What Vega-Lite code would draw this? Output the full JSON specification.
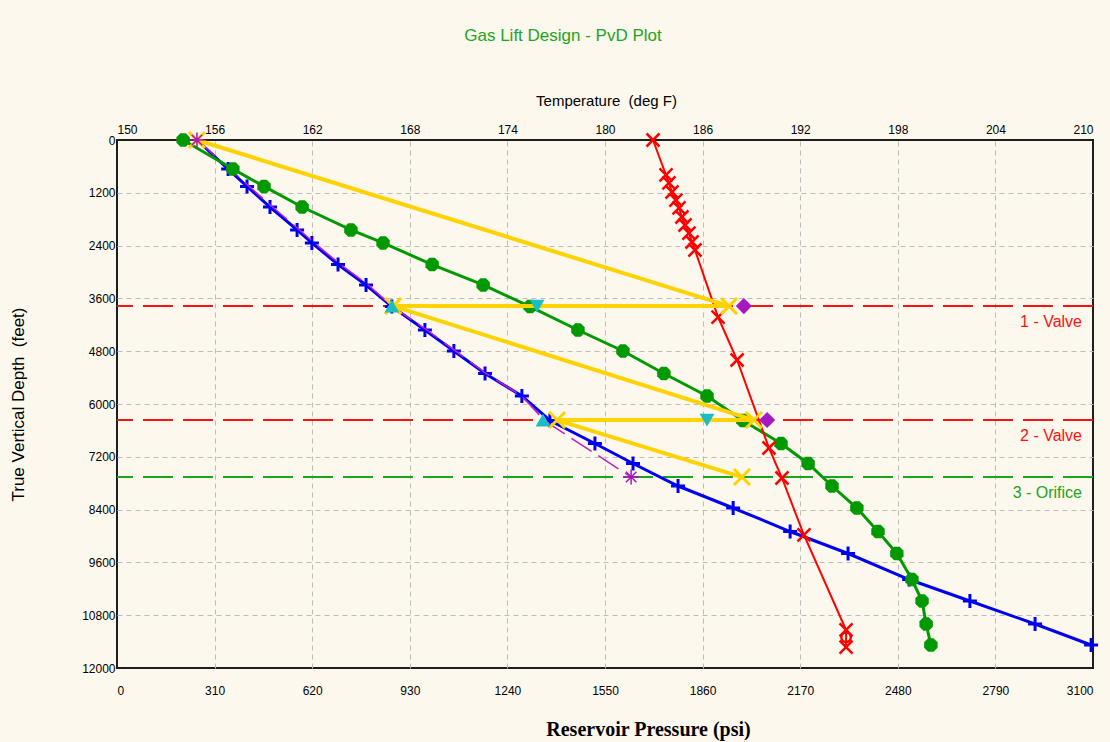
{
  "$schema": "https://vega.github.io/schema/vega-lite/v6.json",
  "width": 976,
  "height": 528,
  "autosize": "none",
  "padding": {"left": 117, "top": 140, "right": 17, "bottom": 74},
  "background": "#fdf8ed",
  "title": {"text": "Gas Lift Design - PvD Plot", "color": "#1ea51e", "fontSize": 17, "font": "Liberation Sans", "fontWeight": "normal", "anchor": "middle", "dx": -42, "offset": 48},
  "config": {
    "view": {"stroke": "#1e1e1e", "strokeWidth": 2},
    "axis": {"labelFont": "Liberation Sans", "labelFontSize": 12, "labelColor": "#000", "titleFont": "Liberation Sans", "titleColor": "#000", "titleFontWeight": "normal", "ticks": false, "domain": false, "gridColor": "#bcbcbc", "gridDash": [5, 4], "gridWidth": 1}
  },
  "datasets": {
    "blue": [
      {"p": 254, "d": 0}, {"p": 353, "d": 660}, {"p": 413, "d": 1055}, {"p": 486, "d": 1523},
      {"p": 572, "d": 2045}, {"p": 619, "d": 2340}, {"p": 702, "d": 2830}, {"p": 791, "d": 3295},
      {"p": 873, "d": 3785}, {"p": 978, "d": 4318}, {"p": 1070, "d": 4795}, {"p": 1169, "d": 5306},
      {"p": 1286, "d": 5818}, {"p": 1375, "d": 6375}, {"p": 1518, "d": 6898}, {"p": 1639, "d": 7352},
      {"p": 1782, "d": 7864}, {"p": 1957, "d": 8364}, {"p": 2138, "d": 8898}, {"p": 2322, "d": 9398},
      {"p": 2516, "d": 9989}, {"p": 2709, "d": 10478}, {"p": 2916, "d": 11000}, {"p": 3094, "d": 11477}
    ],
    "green": [
      {"p": 210, "d": 0}, {"p": 368, "d": 660}, {"p": 467, "d": 1055}, {"p": 588, "d": 1523},
      {"p": 743, "d": 2045}, {"p": 845, "d": 2340}, {"p": 1001, "d": 2830}, {"p": 1163, "d": 3295},
      {"p": 1312, "d": 3785}, {"p": 1464, "d": 4318}, {"p": 1607, "d": 4795}, {"p": 1737, "d": 5306},
      {"p": 1874, "d": 5818}, {"p": 1988, "d": 6375}, {"p": 2109, "d": 6898}, {"p": 2195, "d": 7352},
      {"p": 2271, "d": 7864}, {"p": 2350, "d": 8364}, {"p": 2417, "d": 8898}, {"p": 2477, "d": 9398},
      {"p": 2525, "d": 9989}, {"p": 2557, "d": 10478}, {"p": 2570, "d": 11000}, {"p": 2585, "d": 11477}
    ],
    "red": [
      {"t": 182.95, "d": 0, "m": "x"}, {"t": 183.75, "d": 795, "m": "x"}, {"t": 183.93, "d": 977, "m": "x"},
      {"t": 184.12, "d": 1182, "m": "x"}, {"t": 184.36, "d": 1364, "m": "x"}, {"t": 184.55, "d": 1545, "m": "x"},
      {"t": 184.73, "d": 1750, "m": "x"}, {"t": 184.92, "d": 1932, "m": "x"}, {"t": 185.16, "d": 2114, "m": "x"},
      {"t": 185.35, "d": 2318, "m": "x"}, {"t": 185.53, "d": 2500, "m": "x"}, {"t": 186.95, "d": 4023, "m": "x"},
      {"t": 188.12, "d": 5000, "m": "x"}, {"t": 190.08, "d": 7000, "m": "x"}, {"t": 190.88, "d": 7682, "m": "x"},
      {"t": 192.23, "d": 8977, "m": "x"}, {"t": 194.82, "d": 11136, "m": "x"}, {"t": 194.82, "d": 11300, "m": "o"},
      {"t": 194.82, "d": 11523, "m": "x"}
    ],
    "magenta": [
      {"p": 254, "d": 0}, {"p": 360, "d": 660}, {"p": 420, "d": 1055}, {"p": 494, "d": 1523},
      {"p": 580, "d": 2045}, {"p": 627, "d": 2340}, {"p": 710, "d": 2830}, {"p": 798, "d": 3295},
      {"p": 873, "d": 3775}, {"p": 984, "d": 4318}, {"p": 1075, "d": 4795}, {"p": 1172, "d": 5306},
      {"p": 1286, "d": 5818}, {"p": 1359, "d": 6386}, {"p": 1633, "d": 7660}
    ],
    "yellow": [
      {"i": 1, "p": 254, "d": 0}, {"i": 2, "p": 1944, "d": 3775}, {"i": 3, "p": 877, "d": 3775},
      {"i": 4, "p": 2023, "d": 6365}, {"i": 5, "p": 1398, "d": 6365}, {"i": 6, "p": 1985, "d": 7660}
    ],
    "pts": [
      {"k": "up", "p": 873, "d": 3775}, {"k": "up", "p": 1353, "d": 6365},
      {"k": "down", "p": 1334, "d": 3775}, {"k": "down", "p": 1874, "d": 6365},
      {"k": "dia", "p": 1991, "d": 3775}, {"k": "dia", "p": 2065, "d": 6365},
      {"k": "star", "p": 254, "d": 0}, {"k": "star", "p": 1633, "d": 7660}
    ],
    "valves": [
      {"name": "1 - Valve", "kind": "valve", "d": 3775}, {"name": "2 - Valve", "kind": "valve", "d": 6365}, {"name": "3 - Orifice", "kind": "orifice", "d": 7660}
    ]
  },
  "resolve": {"scale": {"x": "independent"}},
  "layer": [
    {
      "encoding": {
        "x": {"field": "p", "type": "quantitative", "scale": {"domain": [0, 3100], "nice": false, "zero": false},
          "axis": {"orient": "bottom", "values": [0, 310, 620, 930, 1240, 1550, 1860, 2170, 2480, 2790, 3100], "format": "d", "grid": true, "labelPadding": 17,
            "gridOpacity": {"condition": {"test": "datum.value == 0 || datum.value == 3100", "value": 0}, "value": 1},
            "title": "Reservoir Pressure (psi)", "titleFont": "Liberation Serif", "titleFontWeight": "bold", "titleFontSize": 20, "titleX": 531, "titleY": 61, "titleBaseline": "middle"}},
        "y": {"field": "d", "type": "quantitative", "scale": {"domain": [0, 12000], "nice": false, "zero": false, "reverse": true},
          "axis": {"values": [0, 1200, 2400, 3600, 4800, 6000, 7200, 8400, 9600, 10800, 12000], "format": "d", "grid": true, "labelPadding": 2,
            "gridOpacity": {"condition": {"test": "datum.value == 0 || datum.value == 12000", "value": 0}, "value": 1},
            "title": "True Vertical Depth \u00a0(feet)", "titleFontSize": 17, "titleX": -99, "titleY": 264, "titleBaseline": "middle"}}
      },
      "layer": [
        {
          "data": {"name": "valves"},
          "transform": [{"filter": "datum.kind == 'valve'"}],
          "mark": {"type": "rule", "strokeDash": [30, 10], "strokeWidth": 2, "color": "#ff1010"},
          "encoding": {"x": null}
        },
        {
          "data": {"name": "valves"},
          "transform": [{"filter": "datum.kind == 'orifice'"}],
          "mark": {"type": "rule", "strokeDash": [30, 10], "strokeWidth": 2, "color": "#1aa51a"},
          "encoding": {"x": null}
        },
        {
          "data": {"name": "valves"},
          "transform": [{"filter": "datum.kind == 'valve'"}],
          "mark": {"type": "text", "align": "right", "baseline": "middle", "dx": -11, "dy": 16, "fontSize": 16, "font": "Liberation Sans", "color": "#ff1010"},
          "encoding": {
            "x": {"value": "width"},
            "text": {"field": "name"}
          }
        },
        {
          "data": {"name": "valves"},
          "transform": [{"filter": "datum.kind == 'orifice'"}],
          "mark": {"type": "text", "align": "right", "baseline": "middle", "dx": -11, "dy": 16, "fontSize": 16, "font": "Liberation Sans", "color": "#1aa51a"},
          "encoding": {
            "x": {"value": "width"},
            "text": {"field": "name"}
          }
        },
        {
          "data": {"name": "blue"},
          "mark": {"type": "line", "color": "#0000f0", "strokeWidth": 3},
          "encoding": {"order": {"field": "d"}}
        },
        {
          "data": {"name": "blue"},
          "transform": [{"filter": "datum.d > 0"}],
          "mark": {"type": "point", "shape": "M-1,0L1,0M0,-1L0,1", "filled": false, "stroke": "#0000f0", "strokeWidth": 3, "size": 196, "opacity": 1}
        },
        {
          "data": {"name": "magenta"},
          "mark": {"type": "line", "color": "#c020c0", "strokeWidth": 1.5, "strokeDash": [24, 8]},
          "encoding": {"order": {"field": "d"}}
        },
        {
          "data": {"name": "green"},
          "mark": {"type": "line", "color": "#009a00", "strokeWidth": 3},
          "encoding": {"order": {"field": "d"}}
        },
        {
          "data": {"name": "green"},
          "mark": {"type": "point", "shape": "M-0.41,-1L0.41,-1L1,-0.41L1,0.41L0.41,1L-0.41,1L-1,0.41L-1,-0.41Z", "filled": true, "color": "#009a00", "size": 180, "opacity": 1}
        }
      ]
    },
    {
      "data": {"name": "red"},
      "encoding": {
        "x": {"field": "t", "type": "quantitative", "scale": {"domain": [150, 210], "nice": false, "zero": false},
          "axis": {"orient": "top", "values": [150, 156, 162, 168, 174, 180, 186, 192, 198, 204, 210], "grid": false, "labelPadding": 4,
            "title": "Temperature \u00a0(deg F)", "titleFontSize": 15, "titleX": 489, "titleY": -40, "titleBaseline": "middle"}},
        "y": {"field": "d", "type": "quantitative", "scale": {"domain": [0, 12000], "nice": false, "zero": false, "reverse": true}}
      },
      "layer": [
        {
          "mark": {"type": "line", "color": "#ff0000", "strokeWidth": 2},
          "encoding": {"order": {"field": "d"}}
        },
        {
          "transform": [{"filter": "datum.m == 'x'"}],
          "mark": {"type": "point", "shape": "M-1,-1L1,1M1,-1L-1,1", "filled": false, "stroke": "#ff0000", "strokeWidth": 2.5, "size": 169, "opacity": 1}
        },
        {
          "transform": [{"filter": "datum.m == 'o'"}],
          "mark": {"type": "point", "shape": "circle", "filled": false, "stroke": "#ff0000", "strokeWidth": 2.5, "size": 90, "opacity": 1}
        }
      ]
    },
    {
      "encoding": {
        "x": {"field": "p", "type": "quantitative", "scale": {"domain": [0, 3100], "nice": false, "zero": false}, "axis": null},
        "y": {"field": "d", "type": "quantitative", "scale": {"domain": [0, 12000], "nice": false, "zero": false, "reverse": true}}
      },
      "layer": [
        {
          "data": {"name": "yellow"},
          "mark": {"type": "line", "color": "#ffd200", "strokeWidth": 4},
          "encoding": {"order": {"field": "i"}}
        },
        {
          "data": {"name": "yellow"},
          "mark": {"type": "point", "shape": "M-1,-1L1,1M1,-1L-1,1", "filled": false, "stroke": "#ffd200", "strokeWidth": 3, "size": 256, "opacity": 1}
        },
        {
          "data": {"name": "pts"},
          "transform": [{"filter": "datum.k == 'up'"}],
          "mark": {"type": "point", "shape": "triangle-up", "filled": true, "color": "#1bbcc4", "size": 220, "opacity": 1}
        },
        {
          "data": {"name": "pts"},
          "transform": [{"filter": "datum.k == 'down'"}],
          "mark": {"type": "point", "shape": "triangle-down", "filled": true, "color": "#1bbcc4", "size": 220, "opacity": 1}
        },
        {
          "data": {"name": "pts"},
          "transform": [{"filter": "datum.k == 'dia'"}],
          "mark": {"type": "point", "shape": "diamond", "filled": true, "color": "#a818c0", "size": 260, "opacity": 1}
        },
        {
          "data": {"name": "pts"},
          "transform": [{"filter": "datum.k == 'star'"}],
          "mark": {"type": "point", "shape": "M-1,0L1,0M0,-1L0,1M-0.7,-0.7L0.7,0.7M-0.7,0.7L0.7,-0.7", "filled": false, "stroke": "#b010c0", "strokeWidth": 1.5, "size": 225, "opacity": 1}
        }
      ]
    }
  ]
}
